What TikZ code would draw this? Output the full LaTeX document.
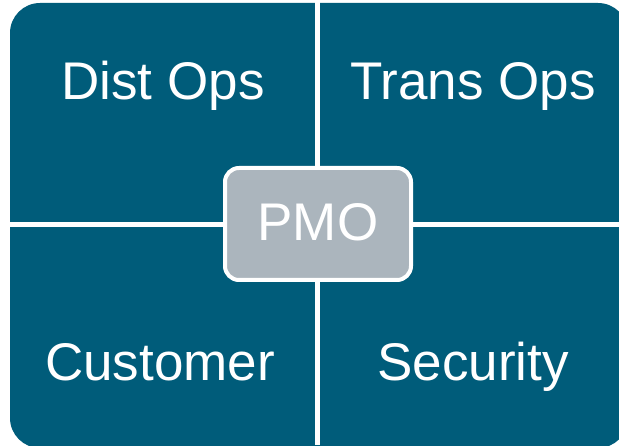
\documentclass[tikz,border=0pt]{standalone}
\usepackage{fontspec}
\setmainfont{Liberation Sans}
\definecolor{teal}{HTML}{005C7A}
\definecolor{pmogrey}{HTML}{ABB5BD}
\begin{document}
\begin{tikzpicture}[x=1pt,y=1pt,font=\fontsize{53}{60}\selectfont,line join=round,
	lbl/.style={text=white,anchor=base,inner sep=0pt},
	divider/.style={white,line width=5pt}]
	\useasboundingbox (0,0) rectangle (619,445);
	\fill[teal,rounded corners=30pt] (10,-3) rectangle (628,442);
	\coordinate (top) at (317.5,445);
	\coordinate (bot) at (317.5,0);
	\coordinate (lft) at (0,220);
	\coordinate (rgt) at (619,220);
	\node[draw=white,line width=4pt,fill=pmogrey,rounded corners=14pt,minimum width=186pt,minimum height=112pt,inner sep=0pt] (pmo) at (318,221) {};
	\draw[divider] (pmo.north-|top)--(top) (pmo.south-|bot)--(bot) (pmo.west|-lft)--(lft) (pmo.east|-rgt)--(rgt);
	\node[lbl] (pmotext) at (318,204) {PMO};
	\node[lbl] (dist) at (163,345) {Dist Ops};
	\node[lbl] (trans) at (473,345) {Trans Ops};
	\node[lbl] (cust) at (160,65) {Customer};
	\node[lbl] (sec) at (473,65) {Security};
\end{tikzpicture}
\end{document}
